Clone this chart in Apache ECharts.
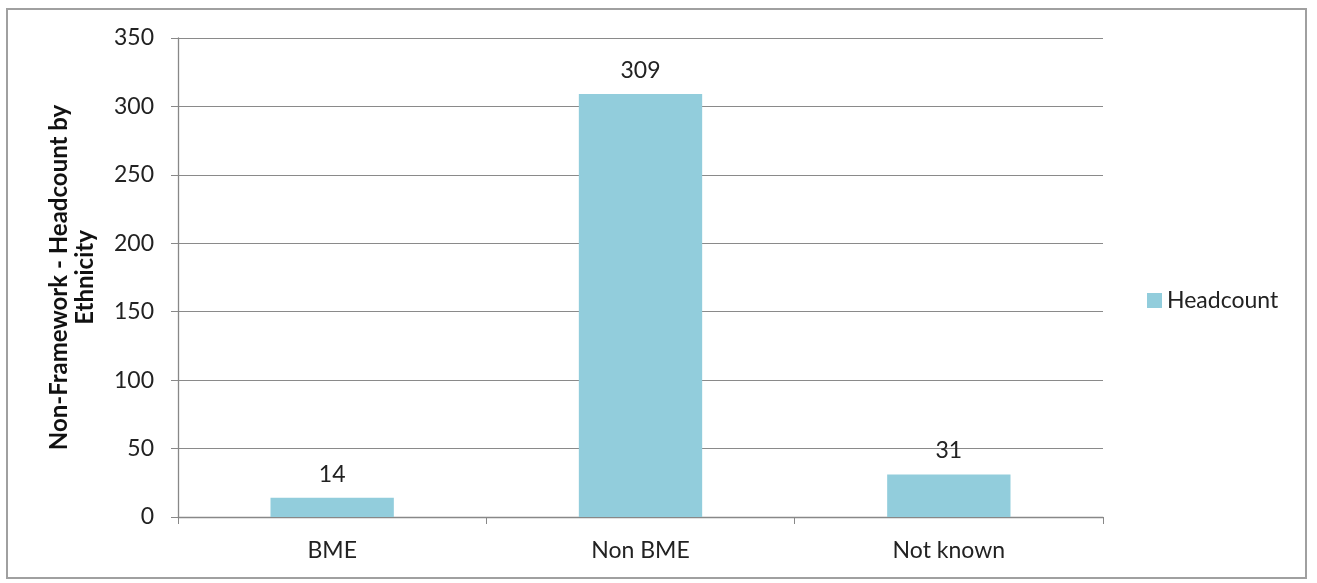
<!DOCTYPE html>
<html><head><meta charset="utf-8">
<script src="https://cdn.jsdelivr.net/npm/echarts@6/dist/echarts.min.js"></script>
<style>html,body{margin:0;padding:0;background:#fff}
#frame{position:absolute;left:6px;top:8px;width:1301px;height:571px;border:2px solid #a0a0a0;box-sizing:border-box}
#c{position:absolute;left:0;top:0;width:1317px;height:583px}</style>
</head><body><div id="frame"></div><div id="c"></div>
<script>
const categories = ['BME', 'Non BME', 'Not known'];
const headcount = [14, 309, 31];
const seriesName = 'Headcount';
const yTitle = 'Non-Framework - Headcount by\nEthnicity';

const chart = echarts.init(document.getElementById('c'));
const font = 'Lato, "Open Sans", sans-serif';
chart.setOption({
  animation: false,
  textStyle: {fontFamily: font},
  grid: {left: 178, right: 214, top: 38, bottom: 66},
  legend: {
    data: [seriesName], orient: 'vertical', left: 1142, top: 284,
    itemWidth: 15, itemHeight: 15, icon: 'rect', itemGap: 6,
    textStyle: {fontSize: 23, color: '#222', fontFamily: font}
  },
  xAxis: {
    type: 'category', data: categories,
    axisLine: {lineStyle: {color: '#888', width: 1.3}},
    axisTick: {show: true, length: 7, alignWithLabel: false, lineStyle: {color: '#888'}},
    axisLabel: {fontSize: 23, color: '#222', margin: 22, fontFamily: font}
  },
  yAxis: {
    type: 'value', min: 0, max: 350, interval: 50,
    name: yTitle, nameLocation: 'middle', nameGap: 80, nameRotate: 90,
    nameTextStyle: {fontSize: 24, fontWeight: 'bold', color: '#111', lineHeight: 26, fontFamily: font},
    axisLine: {show: true, lineStyle: {color: '#888', width: 1.3}},
    axisTick: {show: true, length: 7, lineStyle: {color: '#888'}},
    splitLine: {lineStyle: {color: '#8a8a8a', width: 1.2}},
    axisLabel: {fontSize: 23, color: '#222', margin: 24, fontFamily: font}
  },
  series: [{
    name: seriesName, type: 'bar', data: headcount,
    barCategoryGap: '60%',
    itemStyle: {color: '#92CDDC'},
    label: {show: true, position: 'top', distance: 12, fontSize: 23, color: '#222', fontFamily: font}
  }]
});
</script></body></html>
